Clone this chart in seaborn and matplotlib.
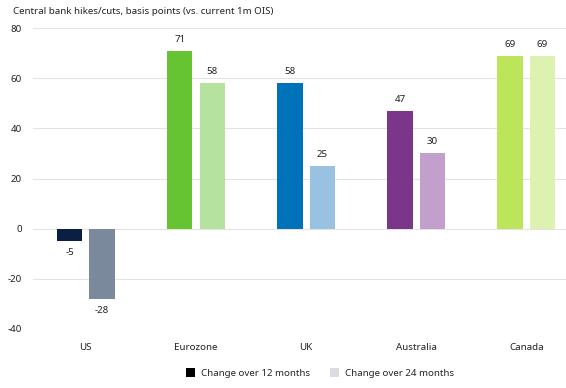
import matplotlib
matplotlib.use("Agg")
import matplotlib.pyplot as plt
import seaborn as sns
import pandas as pd
from matplotlib.patches import Patch

countries = ["US", "Eurozone", "UK", "Australia", "Canada"]
change_12m = [-5, 71, 58, 47, 69]
change_24m = [-28, 58, 25, 30, 69]
periods = ["Change over 12 months", "Change over 24 months"]

colors_12m = ["#0b1f45", "#66c432", "#0072b9", "#7b3589", "#bce55a"]
colors_24m = ["#7a899c", "#b6e2a0", "#98c1e2", "#c3a0cb", "#ddf2b1"]
legend_colors = ["#000000", "#d9dde2"]

df = pd.DataFrame({
    "country": countries * 2,
    "value": change_12m + change_24m,
    "period": [periods[0]] * 5 + [periods[1]] * 5,
})

sns.set_theme(style="white")
plt.rcParams["font.family"] = ["Noto Sans", "DejaVu Sans"]
plt.rcParams["axes.unicode_minus"] = False

fig = plt.figure(figsize=(5.66, 3.88), dpi=100)
ax = fig.add_axes([33 / 566, 1 - 329 / 388, 1 - 33 / 566, (329 - 28) / 388])

sns.barplot(data=df, x="country", y="value", hue="period", order=countries,
            hue_order=periods, width=0.59, gap=0.22, ax=ax, legend=False,
            palette=legend_colors, saturation=1)

for cont, cols in zip(ax.containers, [colors_12m, colors_24m]):
    for bar, c in zip(cont, cols):
        bar.set_facecolor(c)
        bar.set_edgecolor("none")
    labels = [f"{int(round(b.get_height()))}" for b in cont]
    ax.bar_label(cont, labels=labels, padding=5, fontsize=7, color="#222222")

ax.set_ylim(-40, 80)
ax.set_yticks([-40, -20, 0, 20, 40, 60, 80])
ax.set_xlim(-0.48, 4.36)
ax.yaxis.grid(True, color="#e3e3e3", linewidth=0.8)
ax.set_axisbelow(True)
for s in ax.spines.values():
    s.set_visible(False)
ax.set_xlabel("")
ax.set_ylabel("")
ax.tick_params(axis="both", length=0, labelsize=7, colors="#222222")
ax.tick_params(axis="y", pad=8)
ax.tick_params(axis="x", pad=10)

fig.text(13 / 566, 1 - 12 / 388, "Central bank hikes/cuts, basis points (vs. current 1m OIS)",
         fontsize=7, color="#222222", va="center", ha="left")

handles = [Patch(facecolor=c, edgecolor="none") for c in legend_colors]
fig.legend(handles, periods, loc="center", bbox_to_anchor=(320 / 566, 1 - 373 / 388),
           ncol=2, frameon=False, fontsize=7, handlelength=1.0, handleheight=1.0,
           columnspacing=2.0, handletextpad=0.6)

fig.savefig("out.png", dpi=100)
